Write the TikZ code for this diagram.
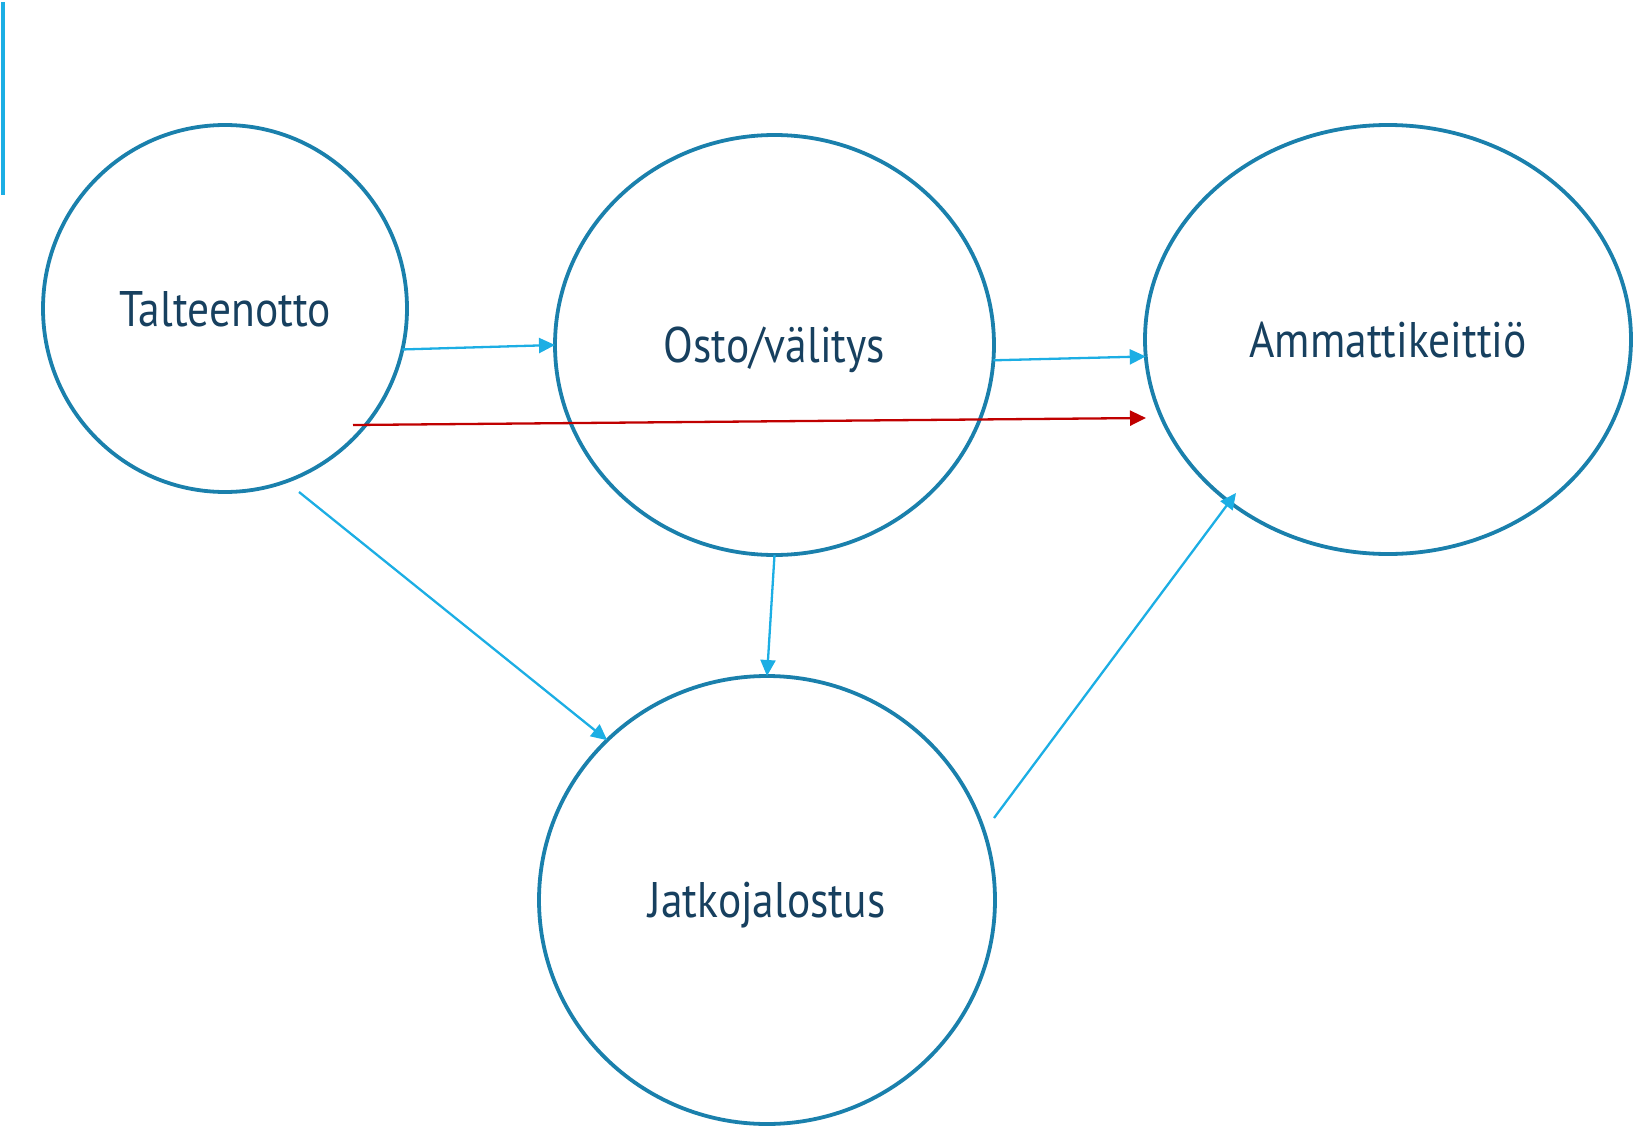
\documentclass[tikz,border=0pt]{standalone}
\usepackage{fontspec}
\setmainfont{PT Sans}[FakeStretch=0.87]
\usetikzlibrary{shapes.geometric,arrows.meta}
\definecolor{ringc}{HTML}{1A80AC}
\definecolor{arrc}{HTML}{1CAEE4}
\definecolor{redc}{HTML}{C00000}
\definecolor{txtc}{HTML}{17405F}
\begin{document}
\begin{tikzpicture}[x=1pt,y=-1pt,
  ring/.style={ellipse,draw=ringc,line width=3.8pt,inner sep=0pt,outer sep=0pt,
    text=txtc,font=\fontsize{50}{60}\selectfont,text height=35pt,text depth=0pt},
  flow/.style={draw=arrc,line width=2.3pt,-{Triangle[length=16pt,width=15pt]}},
  redflow/.style={flow,draw=redc}]
\useasboundingbox (0,0) rectangle (1641,1129);
\fill[arrc] (1,2) rectangle (5,195);
\node[ring,minimum width=364pt,minimum height=367pt] (talt) at (225,308.5) {Talteenotto};
\node[ring,minimum width=439pt,minimum height=420pt] (osto) at (774.5,345) {Osto/välitys};
\node[ring,minimum width=486pt,minimum height=429pt] (amm) at (1388,339.5) {Ammattikeittiö};
\node[ring,minimum width=456pt,minimum height=448pt] (jatk) at (767,900) {Jatkojalostus};
\coordinate (rs) at (353,425);
\coordinate (re) at (1146,418);
\coordinate (tj) at (299,492);
\coordinate (ja) at (994,818);
\coordinate (ae) at (1236,493);
\draw[flow] (talt.-13) -- (osto.west);
\draw[flow] (osto.-4) -- (amm.184);
\draw[redflow] (rs) -- (re);
\draw[flow] (tj) -- (jatk.135);
\draw[flow] (osto.south) -- (jatk.north);
\draw[flow] (ja) -- (ae);
\end{tikzpicture}
\end{document}
